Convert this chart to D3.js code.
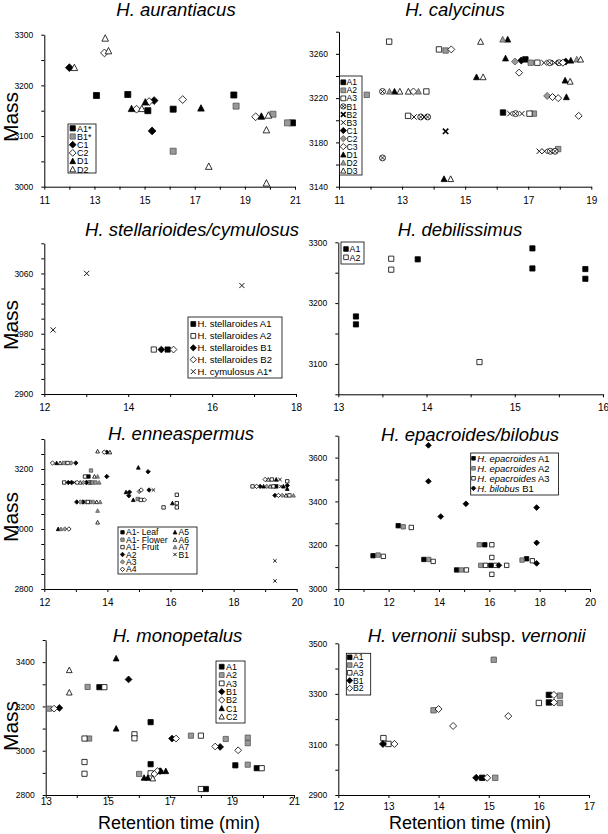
<!DOCTYPE html>
<html>
<head>
<meta charset="utf-8">
<script src="https://cdn.jsdelivr.net/npm/d3@7"></script>
<style>
body{margin:0;background:#fff}
svg{display:block;font-family:"Liberation Sans",Arial,sans-serif}
</style>
</head>
<body>
<svg id="chart" width="608" height="834"></svg>
<script>
// ---- H. aurantiacus
var aurNames = ["A1*","B1*","C1","C2","D1","D2"];
var aurA1 = [[13.08,3180],[14.33,3182],[15.13,3150],[16.14,3153],[18.56,3181],[20.9,3126]];
var aurB1 = [[16.14,3070],[18.65,3159],[20.12,3143],[20.7,3126]];
var aurC1 = [[12.0,3235],[15.38,3170],[15.3,3110]];
var aurC2 = [[13.4,3264],[14.68,3153],[15.18,3168],[16.52,3172],[19.43,3138]];
var aurD1 = [[14.48,3154],[15.03,3167],[17.25,3155],[19.66,3139]];
var aurD2 = [[12.2,3235],[13.43,3293],[13.56,3268],[14.89,3154],[17.56,3040],[19.86,3112],[19.94,3141],[19.86,3007]];
var aurXTicks = [11,12,13,14,15,16,17,18,19,20,21];
var aurXLabels = [11,13,15,17,19,21];
var aurYTicks = [3000,3050,3100,3150,3200,3250,3300];
var aurYLabels = [3000,3100,3200,3300];

// ---- H. calycinus
var calNames = ["A1","A2","A3","B1","B2","B3","C1","C2","C3","D1","D2","D3"];
var calA1 = [[16.91,3255],[16.2,3207]];
var calA2 = [[11.88,3223],[14.38,3263],[17.08,3252],[17.18,3206],[17.95,3174]];
var calA3 = [[12.59,3271],[14.17,3264],[13.19,3204],[13.77,3226],[17.04,3206],[17.29,3252]];
var calB1 = [[12.38,3226],[12.38,3166],[13.59,3203],[13.81,3203],[16.6,3206],[17.68,3252],[17.98,3252],[17.7,3172],[17.85,3172]];
var calB2 = [[14.38,3190]];
var calB3 = [[13.38,3203],[13.7,3203],[16.42,3206],[16.8,3206],[17.5,3252],[17.84,3252],[17.35,3172],[17.52,3172]];
var calC1 = [[16.78,3254],[18.19,3253]];
var calC2 = [[16.58,3253],[17.6,3222]];
var calC3 = [[14.56,3264],[16.71,3243],[18.1,3252],[17.77,3221],[17.95,3220],[18.6,3204],[13.36,3226]];
var calD1 = [[16.35,3273],[16.28,3256],[15.36,3239],[12.76,3226],[18.35,3254],[18.17,3236],[18.21,3221],[14.33,3147]];
var calD2 = [[16.19,3273],[12.6,3226],[13.52,3226],[18.54,3255]];
var calD3 = [[15.49,3271],[15.57,3239],[12.93,3226],[13.2,3226],[14.54,3147],[18.33,3235],[18.66,3255]];
var calXTicks = [11,12,13,14,15,16,17,18,19];
var calXLabels = [11,13,15,17,19];
var calYTicks = [3140,3160,3180,3200,3220,3240,3260,3280];
var calYLabels = [3140,3180,3220,3260];

// ---- H. stellarioides/cymulosus
var stNames = ["H. stellaroides A1","H. stellaroides A2","H. stellaroides B1","H. stellaroides B2","H. cymulosus A1*"];
var stA1 = [[14.94,2959]];
var stA2 = [[14.61,2959]];
var stB1 = [[14.79,2959]];
var stB2 = [[15.08,2959]];
var cyA1 = [[12.21,2985],[13.01,3060],[16.71,3044]];
var stXTicks = [12,13,14,15,16,17,18];
var stXLabels = [12,14,16,18];
var stYTicks = [2900,2920,2940,2960,2980,3000,3020,3040,3060,3080,3100];
var stYLabels = [2900,2980,3060];

// ---- H. debilissimus
var debNames = ["A1","A2"];
var debA1 = [[13.2,3178],[13.2,3165],[13.9,3272],[15.2,3290],[15.2,3257],[15.8,3256],[15.8,3240]];
var debA2 = [[13.6,3273],[13.6,3255],[14.6,3103]];
var debXTicks = [13,13.5,14,14.5,15,15.5,16];
var debXLabels = [13,14,15,16];
var debYTicks = [3050,3100,3150,3200,3250,3300];
var debYLabels = [3100,3200,3300];

// ---- H. enneaspermus
var enNames = ["A1- Leaf","A1- Flower","A1- Fruit","A2","A3","A4","A5","A6","A7","B1"];
var enLeaf = [[13.4,3175],[13.45,3155],[19.35,3142]];
var enFlower = [[12.62,3220],[13.48,3195],[13.39,3155],[13.53,3155],[13.62,3155],[13.3,3090],[13.46,3090],[14.96,3100]];
var enFruit = [[12.74,3220],[13.29,3175],[12.63,3155],[13.38,3090],[15.06,3097],[15.78,3072],[16.2,3114],[16.2,3086],[16.2,3072],[19.21,3165],[19.7,3159],[18.6,3142],[19.26,3142],[19.77,3112]];
var enA2 = [[13.0,3220],[13.98,3256],[13.98,3175],[12.76,3155],[12.86,3155],[13.33,3155],[13.03,3090],[13.22,3090],[15.29,3191],[14.7,3123],[14.68,3111],[15.32,3130],[18.84,3142],[19.7,3145],[19.31,3112]];
var enA3 = [[12.85,3220],[13.24,3155],[13.14,3090],[13.56,3090],[12.65,3000],[15.01,3125],[19.05,3142],[19.54,3112]];
var enA4 = [[12.26,3220],[13.9,3256],[13.04,3155],[12.78,3000],[15.07,3130],[15.17,3097],[19.0,3165],[18.73,3142],[19.42,3112]];
var enA5 = [[12.39,3220],[12.44,3000],[14.98,3205],[14.59,3123],[14.82,3097],[16.06,3086],[19.35,3165],[18.95,3142],[19.58,3142],[19.7,3134]];
var enA6 = [[12.5,3220],[13.69,3259],[14.08,3256],[13.59,3175],[13.14,3155],[13.66,3090],[13.69,3022],[19.1,3165],[19.16,3142],[19.66,3112]];
var enA7 = [[13.69,3175],[13.74,3155],[13.77,3090],[13.69,3061],[12.53,3000],[19.9,3112]];
var enB1 = [[12.95,3155],[15.46,3130],[19.47,3165],[19.5,3142],[19.31,2894],[19.31,2827]];
var enXTicks = [12,13,14,15,16,17,18,19,20];
var enXLabels = [12,14,16,18,20];
var enYTicks = [2800,2850,2900,2950,3000,3050,3100,3150,3200,3250,3300];
var enYLabels = [2800,3000,3200];

// ---- H. epacroides/bilobus
var epNames = ["H. epacroides A1","H. epacroides A2","H. epacroides A3","H. bilobus B1"];
var epA1 = [[11.38,3152],[12.38,3289],[13.4,3135],[14.7,3087],[15.82,3202],[16.06,3108],[17.48,3138]];
var epA2 = [[11.58,3155],[12.58,3284],[13.59,3135],[14.89,3087],[15.6,3202],[15.66,3108],[17.3,3132]];
var epA3 = [[11.79,3149],[12.9,3281],[13.77,3126],[15.09,3087],[16.1,3202],[16.1,3144],[16.1,3067],[15.85,3108],[16.25,3108],[16.69,3108],[17.71,3129]];
var epB1 = [[13.58,3656],[13.58,3492],[14.07,3331],[15.07,3389],[16.38,3108],[17.88,3372],[17.88,3211],[17.88,3117]];
var epXTicks = [10,11,12,13,14,15,16,17,18,19,20];
var epXLabels = [10,12,14,16,18,20];
var epYTicks = [3000,3100,3200,3300,3400,3500,3600,3700];
var epYLabels = [3000,3200,3400,3600];

// ---- H. monopetalus
var monNames = ["A1","A2","A3","B1","B2","C1","C2"];
var monA1 = [[14.73,3287],[16.38,3129],[16.38,2939],[18.16,2827],[19.11,2934],[19.8,2921]];
var monA2 = [[13.11,3190],[14.35,3288],[14.4,3055],[16.01,2895],[17.68,3068],[18.8,3053],[19.51,3059],[19.51,3034],[19.51,2937]];
var monA3 = [[14.89,3287],[14.25,3055],[14.25,2949],[14.25,2896],[15.86,3074],[15.86,3056],[16.38,2898],[18.0,3068],[18.0,2827],[19.96,2921]];
var monB1 = [[13.44,3193],[15.67,3322],[17.07,3055],[18.62,3017],[16.68,2908]];
var monB2 = [[13.27,3190],[17.2,3055],[18.46,3019],[19.2,3002],[16.6,2908],[16.5,2895]];
var monC1 = [[15.27,3417],[15.27,3100],[16.17,2878],[16.29,2878],[16.71,2908],[16.87,2908]];
var monC2 = [[13.76,3364],[13.76,3263],[16.45,2875]];
var monXTicks = [13,14,15,16,17,18,19,20,21];
var monXLabels = [13,15,17,19,21];
var monYTicks = [2800,2900,3000,3100,3200,3300,3400,3500];
var monYLabels = [2800,3000,3200,3400];

// ---- H. vernonii subsp. vernonii
var verNames = ["A1","A2","A3","B1","B2"];
var verA1 = [[16.2,3296],[16.2,3266],[14.87,2968]];
var verA2 = [[15.1,3435],[16.42,3293],[16.42,3264],[15.13,2968],[13.9,3235]];
var verA3 = [[12.9,3125],[13.0,3102],[16.0,3264]];
var verB1 = [[12.89,3102],[14.75,2968]];
var verB2 = [[13.12,3102],[14.0,3240],[14.29,3173],[15.39,3212],[14.97,2968],[16.3,3296],[16.3,3266]];
var verXTicks = [12,13,14,15,16,17];
var verXLabels = [12,13,14,15,16,17];
var verYTicks = [2900,3000,3100,3200,3300,3400,3500];
var verYLabels = [2900,3100,3300,3500];

var svg = d3.select("#chart")

var panels = [
  {title:[["H. aurantiacus",1]], tx:176, ty:16, x0:44.3, x1:295, y0:34.7, y1:186.7,
   xd:[11,21], yd:[3000,3300], xt:aurXTicks, xl:aurXLabels, yt:aurYTicks, yl:aurYLabels,
   series:[aurA1,aurB1,aurC1,aurC2,aurD1,aurD2], names:aurNames,
   shapes:["sqB","sqG","dmB","dmW","trB","trW"], ms:3, mass:117,
   leg:{x:68,y:124,w:28,h:49,top:128.3,row:8.2,mx:72.7,tx:77,fs:9,ms:2.6}},
  {title:[["H. calycinus",1]], tx:455, ty:16, x0:339, x1:591.3, y0:31.7, y1:186.7,
   xd:[11,19], yd:[3140,3280], xt:calXTicks, xl:calXLabels, yt:calYTicks, yl:calYLabels,
   series:[calA1,calA2,calA3,calB1,calB2,calB3,calC1,calC2,calC3,calD1,calD2,calD3], names:calNames,
   shapes:["sqB","sqG","sqW","cxW","xbB","xxB","dmB","dmG","dmW","trB","trG","trW"], ms:2.7,
   leg:{x:339.5,y:76,w:22.5,h:99,top:82.3,row:8.04,mx:343.3,tx:346.5,fs:8.6,ms:2.4}},
  {title:[["H. stellarioides/cymulosus",1]], tx:192, ty:235.5, x0:44.3, x1:296, y0:243.3, y1:394,
   xd:[12,18], yd:[2900,3100], xt:stXTicks, xl:stXLabels, yt:stYTicks, yl:stYLabels,
   series:[stA1,stA2,stB1,stB2,cyA1], names:stNames,
   shapes:["sqB","sqW","dmB","dmW","xxB"], ms:2.6, mass:325,
   leg:{x:188,y:317,w:94,h:61,top:324,row:11.9,mx:193.3,tx:197.5,fs:9.5,ms:2.4}},
  {title:[["H. debilissimus",1]], tx:460, ty:235.5, x0:338.3, x1:603, y0:242.3, y1:394.3,
   xd:[13,16], yd:[3050,3300], xt:debXTicks, xl:debXLabels, yt:debYTicks, yl:debYLabels,
   series:[debA1,debA2], names:debNames, shapes:["sqB","sqW"], ms:2.6,
   leg:{x:341,y:242,w:23,h:22,top:249,row:8.3,mx:346,tx:349.5,fs:9,ms:2.3}},
  {title:[["H. enneaspermus",1]], tx:181, ty:440, x0:44.3, x1:296.7, y0:439, y1:589,
   xd:[12,20], yd:[2800,3300], xt:enXTicks, xl:enXLabels, yt:enYTicks, yl:enYLabels,
   series:[enLeaf,enFlower,enFruit,enA2,enA3,enA4,enA5,enA6,enA7,enB1], names:enNames,
   shapes:["sqB","sqG","sqW","dmB","dmG","dmW","trB","trW","trG","xxB"], ms:1.7, mass:517,
   leg:{x:118,y:527,w:79,h:47,top:532.3,row:7.4,mx:122.5,tx:126,fs:8.6,ms:1.7,split:6,dx:52.5}},
  {title:[["H. epacroides/bilobus",1]], tx:470, ty:441, x0:338.3, x1:590, y0:435.7, y1:589,
   xd:[10,20], yd:[3000,3700], xt:epXTicks, xl:epXLabels, yt:epYTicks, yl:epYLabels,
   series:[epA1,epA2,epA3,epB1], names:epNames, shapes:["sqB","sqG","sqW","dmB"], ms:2.2,
   leg:{x:470.7,y:453,w:87.7,h:42,top:458.3,row:10,mx:473.5,tx:477.3,fs:9.5,ms:1.8,ital:true}},
  {title:[["H. monopetalus",1]], tx:177.5, ty:641.5, x0:45.7, x1:294, y0:640, y1:795,
   xd:[13,21], yd:[2800,3500], xt:monXTicks, xl:monXLabels, yt:monYTicks, yl:monYLabels,
   series:[monA1,monA2,monA3,monB1,monB2,monC1,monC2], names:monNames,
   shapes:["sqB","sqG","sqW","dmB","dmW","trB","trW"], ms:2.6, mass:726, ret:179, xpad:0,
   leg:{x:216,y:661,w:29,h:62,top:666.7,row:8.33,mx:221.7,tx:226,fs:9,ms:2.4}},
  {title:[["H. vernonii",1],[" subsp. ",0],["vernonii",1]], tx:476.7, ty:641.5, x0:338.3, x1:589, y0:643.3, y1:795,
   xd:[12,17], yd:[2900,3500], xt:verXTicks, xl:verXLabels, yt:verYTicks, yl:verYLabels,
   series:[verA1,verA2,verA3,verB1,verB2], names:verNames,
   shapes:["sqB","sqG","sqW","dmB","dmW"], ms:2.7, ret:470, xpad:5,
   leg:{x:346.3,y:653.3,w:24.4,h:41.7,top:657.3,row:7.75,mx:349.7,tx:353,fs:8.6,ms:2.3}}
]

var shapePath = function(kind, s){
  if (kind == "sq") return "M"+(-s)+","+(-s)+"h"+(2*s)+"v"+(2*s)+"h"+(-2*s)+"Z";
  if (kind == "dm") { var r = s*1.3; return "M0,"+(-r)+"L"+r+",0L0,"+r+"L"+(-r)+",0Z"; }
  if (kind == "tr") { var h = s*1.15; return "M0,"+(-h)+"L"+(s*1.1)+","+(h*0.85)+"L"+(-s*1.1)+","+(h*0.85)+"Z"; }
  if (kind == "cx") return d3.arc()({innerRadius:0,outerRadius:s*1.1,startAngle:0,endAngle:2*Math.PI})
                     +"M"+(-s*0.75)+","+(-s*0.75)+"L"+(s*0.75)+","+(s*0.75)+"M"+(s*0.75)+","+(-s*0.75)+"L"+(-s*0.75)+","+(s*0.75);
  return "M"+(-s)+","+(-s)+"L"+s+","+s+"M"+s+","+(-s)+"L"+(-s)+","+s; // x marks
}

var styleMark = function(sel, t){
  var kind = t.slice(0,2), f = t.slice(2)
  var fill = f == "B" ? "#000" : (f == "G" ? "#999" : "#fff")
  var stroke = f == "G" ? "#555" : "#000"
  if (kind == "xx" || kind == "xb") fill = "none"
  sel.attr("fill", fill).attr("stroke", stroke)
    .attr("stroke-width", kind == "xb" ? 1.6 : (kind == "xx" ? 0.9 : 0.8))
}

var drawPanel = function(p){
  var g = svg.append("g")
  var x = d3.scaleLinear().domain(p.xd).range([p.x0, p.x1])
  var y = d3.scaleLinear().domain(p.yd).range([p.y1, p.y0])

  var xa = g.append("g")
    .attr("transform", "translate(0," + p.y1 + ")")
    .call(d3.axisBottom(x).tickValues(p.xt).tickSize(3).tickSizeOuter(0)
      .tickPadding(p.xpad == null ? 7 : p.xpad)
      .tickFormat(function(d){ return p.xl.indexOf(d) >= 0 ? d : "" }))
  xa.attr("font-size", 10).attr("font-family", null)

  var ya = g.append("g")
    .attr("transform", "translate(" + p.x0 + ",0)")
    .call(d3.axisLeft(y).tickValues(p.yt).tickSize(3).tickSizeOuter(0).tickPadding(8)
      .tickFormat(function(d){ return p.yl.indexOf(d) >= 0 ? d : "" }))
  ya.attr("font-size", 8.5).attr("font-family", null)
  g.selectAll(".domain, .tick line").attr("stroke", "#000").attr("stroke-width", 1)

  // points
  p.series.forEach(function(s, i){
    var kind = p.shapes[i].slice(0,2)
    g.append("g").selectAll("path").data(s).enter().append("path")
      .attr("d", shapePath(kind, p.ms))
      .attr("transform", function(d){ return "translate(" + x(d[0]) + "," + y(d[1]) + ")" })
      .call(styleMark, p.shapes[i])
  })

  // title
  var t = g.append("text").attr("x", p.tx).attr("y", p.ty)
    .attr("text-anchor", "middle").attr("font-size", 18.5)
  p.title.forEach(function(part){
    t.append("tspan").text(part[0]).attr("font-style", part[1] ? "italic" : "normal")
  })

  // legend
  var L = p.leg
  var lg = g.append("g")
  lg.append("rect").attr("x", L.x).attr("y", L.y).attr("width", L.w).attr("height", L.h)
    .attr("fill", "#fff").attr("stroke", "#000").attr("stroke-width", 0.8)
  p.names.forEach(function(n, i){
    var col = (L.split && i >= L.split) ? 1 : 0
    var r = col ? i - L.split : i
    var cy = L.top + r * L.row
    var off = col ? L.dx : 0
    var kind = p.shapes[i].slice(0,2)
    lg.append("path").attr("d", shapePath(kind, L.ms))
      .attr("transform", "translate(" + (L.mx + off) + "," + cy + ")")
      .call(styleMark, p.shapes[i])
    var tt = lg.append("text").attr("x", L.tx + off).attr("y", cy).attr("dy", "0.36em")
      .attr("font-size", L.fs)
    if (L.ital) {
      var k = n.lastIndexOf(" ")
      tt.append("tspan").attr("font-style", "italic").text(n.slice(0, k))
      tt.append("tspan").text(n.slice(k))
    } else tt.text(n)
  })

  if (p.mass) {
    g.append("text").attr("transform", "translate(17.5," + p.mass + ") rotate(-90)")
      .attr("text-anchor", "middle").attr("font-size", 21).text("Mass")
  }
  if (p.ret) {
    g.append("text").attr("x", p.ret).attr("y", 829).attr("text-anchor", "middle")
      .attr("font-size", 18).text("Retention time (min)")
  }
}

panels.forEach(drawPanel)
</script>
</body>
</html>
